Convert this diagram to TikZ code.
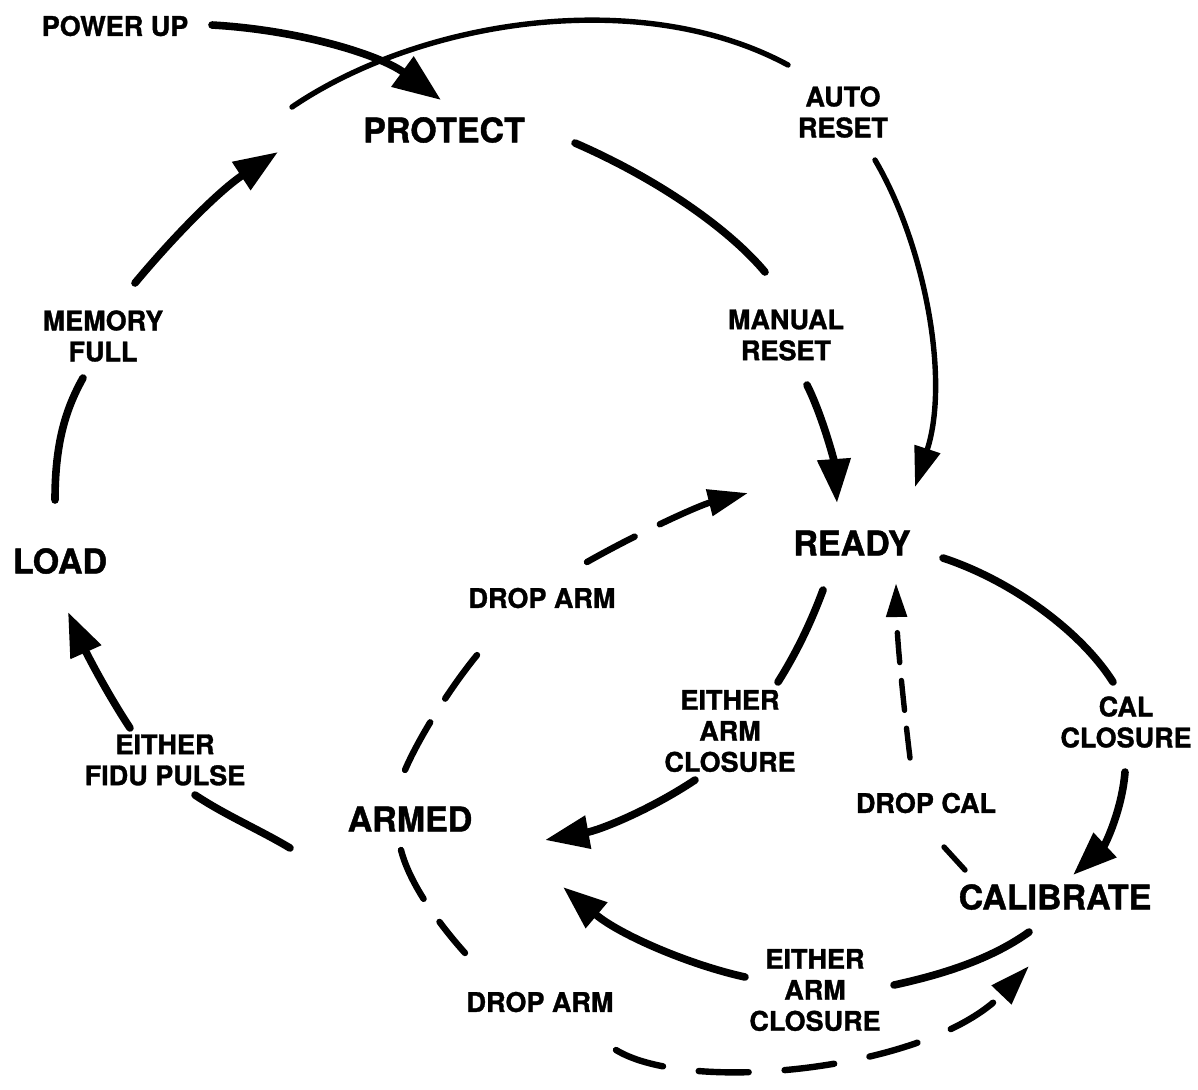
\documentclass[tikz,border=0pt]{standalone}
\usepackage{fontspec}
\setmainfont{TeX Gyre Heros}[BoldFeatures={FakeBold=1.2}]
\usetikzlibrary{arrows.meta,calc}
\begin{document}
\begin{tikzpicture}[x=0.5pt,y=-0.5pt,
  state/.style={font=\fontsize{17}{20}\selectfont\bfseries, inner sep=0pt},
  lbl/.style={font=\fontsize{13.5}{15.5}\selectfont\bfseries, align=center, inner sep=0pt},
  solidline/.style={line width=3.8pt, line cap=round},
  thinline/.style={line width=2.7pt, line cap=round},
  dashline/.style={line width=3.2pt, line cap=round, dash pattern=on 27pt off 14pt},
  dotline/.style={line width=2.7pt, line cap=round, dash pattern=on 15pt off 9pt},
  bighead/.style={-{Triangle[length=22pt,width=16pt]}},
  smallhead/.style={-{Triangle[length=20pt,width=13pt]}},
  tinyhead/.style={-{Triangle[length=17pt,width=10pt]}}
]
\useasboundingbox[fill=white] (0,0) rectangle (1198,1089);

% states
\node[state] (protect)   at (444,130) {PROTECT};
\node[state] (load)      at (60,561)  {LOAD};
\node[state] (ready)     at (852,543) {READY};
\node[state] (armed)     at (410,819) {ARMED};
\node[state] (calibrate) at (1055,897) {CALIBRATE};

% labels
\node[lbl] (powerup)   at (115,26)  {POWER UP};
\node[lbl] (autoreset) at (843,112) {AUTO\\RESET};
\node[lbl] (memfull)   at (103,336) {MEMORY\\FULL};
\node[lbl] (manreset)  at (786,335) {MANUAL\\RESET};
\node[lbl] (droparma)  at (542,598) {DROP ARM};
\node[lbl] (eaca)      at (730,731) {EITHER\\ARM\\CLOSURE};
\node[lbl] (calclos)   at (1126,722) {CAL\\CLOSURE};
\node[lbl] (fidu)      at (165,760) {EITHER\\FIDU PULSE};
\node[lbl] (dropcal)   at (926,803) {DROP CAL};
\node[lbl] (eacb)      at (815,990) {EITHER\\ARM\\CLOSURE};
\node[lbl] (droparmb)  at (540,1002) {DROP ARM};

% POWER UP -> PROTECT
\draw[solidline,-{Triangle[length=24pt,width=18pt]}] ($(powerup)+(97,-1)$) .. controls (300,30) and (380,55) .. ($(protect)+(-3,-30)$);

% PROTECT -> READY (AUTO RESET)
\draw[thinline] ($(protect)+(-152,-23)$) .. controls (420,20) and (640,-15) .. ($(autoreset)+(-55,-47)$);
\draw[thinline,smallhead] ($(autoreset)+(32,48)$) .. controls (925,245) and (950,380) .. ($(ready)+(63,-56)$);

% PROTECT -> READY (MANUAL RESET)
\draw[solidline] ($(protect)+(131,13)$) .. controls (660,180) and (730,230) .. ($(manreset)+(-21,-63)$);
\draw[solidline,bighead] ($(manreset)+(21,50)$) .. controls (822,415) and (834,460) .. ($(ready)+(-15,-40)$);

% LOAD -> PROTECT (MEMORY FULL)
\draw[solidline] ($(load)+(-5,-61)$) .. controls (55,445) and (65,410) .. ($(memfull)+(-20,42)$);
\draw[solidline,bighead] ($(memfull)+(32,-53)$) .. controls (175,235) and (220,190) .. ($(protect)+(-166,22)$);

% ARMED -> LOAD (EITHER FIDU PULSE)
\draw[solidline] ($(armed)+(-120,29)$) .. controls (260,830) and (225,815) .. ($(fidu)+(30,35)$);
\draw[solidline,bighead] ($(fidu)+(-35,-32)$) .. controls (105,690) and (85,650) .. ($(load)+(8,51)$);

% ARMED -> READY (DROP ARM), dashed
\draw[dashline] ($(armed)+(-5,-49)$) .. controls (420,735) and (455,680) .. ($(droparma)+(-59,50)$);
\draw[dashline,smallhead] ($(droparma)+(45,-36)$) .. controls (640,532) and (700,505) .. ($(ready)+(-104,-50)$);

% READY -> ARMED (EITHER ARM CLOSURE)
\draw[solidline] ($(ready)+(-29,47)$) .. controls (810,625) and (795,655) .. ($(eaca)+(48,-49)$);
\draw[solidline,bighead] ($(eaca)+(-35,49)$) .. controls (650,810) and (600,830) .. ($(armed)+(135,21)$);

% READY -> CALIBRATE (CAL CLOSURE)
\draw[solidline] ($(ready)+(91,15)$) .. controls (1010,580) and (1080,630) .. ($(calclos)+(-13,-40)$);
\draw[solidline,bighead] ($(calclos)+(-1,50)$) .. controls (1122,810) and (1105,845) .. ($(calibrate)+(18,-22)$);

% CALIBRATE -> READY (DROP CAL), dashed
\draw[thinline] ($(calibrate)+(-90,-27)$) -- ($(dropcal)+(18,44)$);
\draw[dotline,tinyhead] ($(dropcal)+(-16,-45)$) .. controls (903,700) and (897,640) .. ($(ready)+(44,40)$);

% CALIBRATE -> ARMED (EITHER ARM CLOSURE)
\draw[solidline] ($(calibrate)+(-26,35)$) .. controls (990,960) and (940,975) .. ($(eacb)+(79,-5)$);
\draw[solidline,bighead] ($(eacb)+(-70,-13)$) .. controls (690,965) and (620,935) .. ($(armed)+(153,68)$);

% ARMED -> CALIBRATE (DROP ARM), dashed
\draw[dashline] ($(armed)+(-9,31)$) .. controls (410,885) and (440,925) .. ($(droparmb)+(-75,-49)$);
\draw[dashline,dash pattern=on 25pt off 18pt,smallhead] ($(droparmb)+(76,48)$) .. controls (690,1095) and (930,1070) .. ($(calibrate)+(-26,69)$);
\end{tikzpicture}
\end{document}
